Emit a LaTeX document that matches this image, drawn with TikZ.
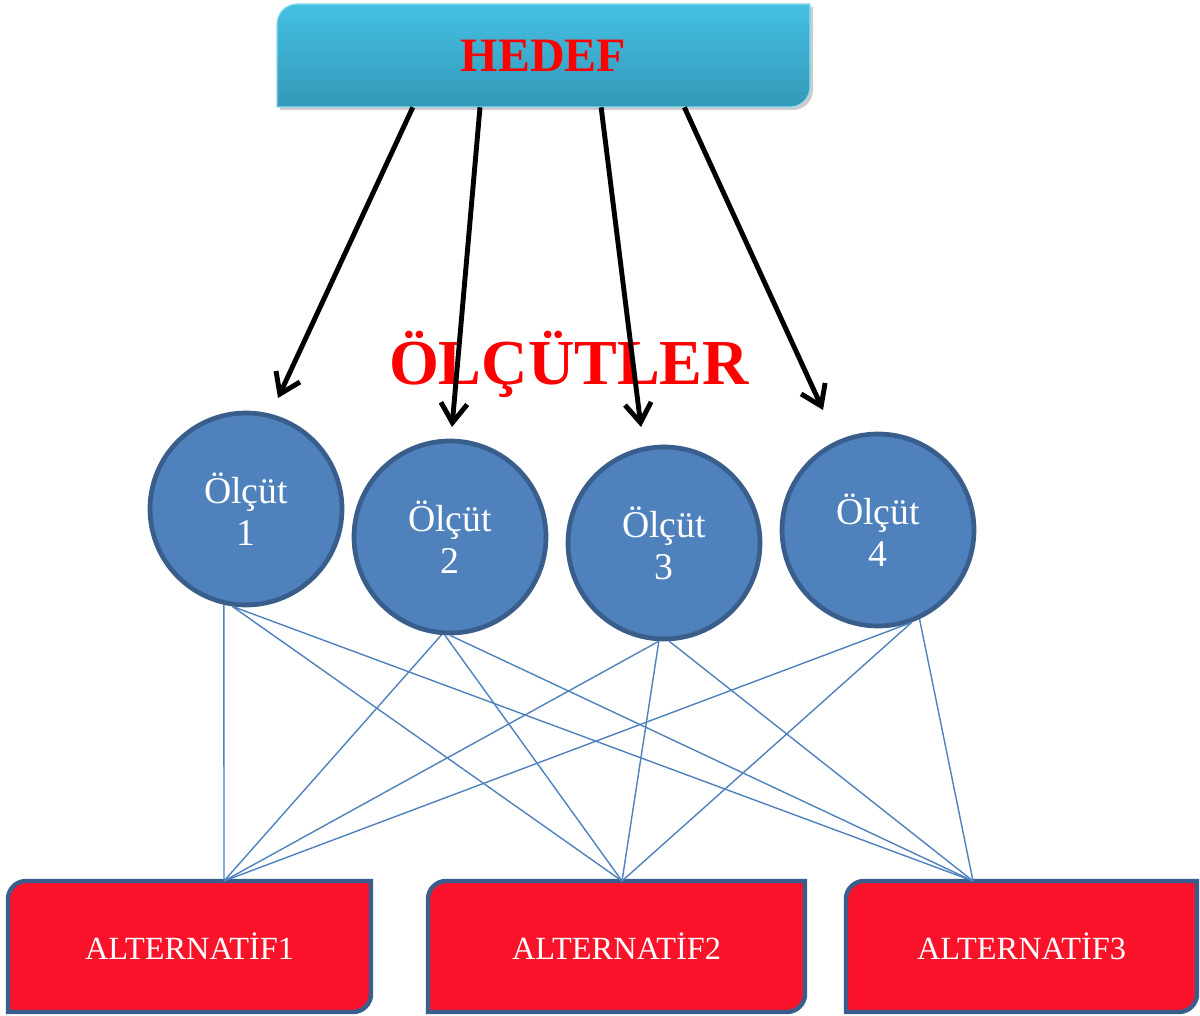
\documentclass[tikz,border=0pt]{standalone}
\usepackage{fontspec}
\setmainfont{Liberation Serif}
\usetikzlibrary{arrows.meta,calc}

\definecolor{critfill}{RGB}{79,129,189}
\definecolor{critedge}{RGB}{58,94,140}
\definecolor{altred}{RGB}{249,18,41}
\definecolor{goaltop}{RGB}{68,192,226}
\definecolor{goalbot}{RGB}{52,152,184}
\definecolor{titlered}{RGB}{255,0,0}

% box with round top-left and bottom-right corners
\newcommand{\cornerbox}[6]{%
  \path[#6] (#1,#2+#5) .. controls (#1,#2+0.45*#5) and (#1+0.45*#5,#2) .. (#1+#5,#2)
    -- (#3,#2) -- (#3,#4-#5) .. controls (#3,#4-0.45*#5) and (#3-0.45*#5,#4) .. (#3-#5,#4)
    -- (#1,#4) -- cycle;}

\begin{document}
\begin{tikzpicture}
  [x=0.02cm,y=-0.02cm,
   crit/.style={circle,fill=critfill,draw=critedge,line width=2.7pt,minimum size=3.84cm,
     inner sep=0pt,text=white,align=center,font=\fontsize{21.5}{24}\selectfont},
   altlabel/.style={text=white,minimum width=7.2cm,minimum height=2.6cm,
     font=\fontsize{18.4}{21}\selectfont},
   altshape/.style={fill=altred,draw=critedge,line width=2.5pt},
   goalshape/.style={top color=goaltop,bottom color=goalbot,draw=goaltop!60!white,line width=0.6pt},
   goallabel/.style={text=titlered,minimum width=10.66cm,minimum height=2.06cm,
     font=\fontsize{27.3}{30}\selectfont\bfseries},
   link/.style={draw=critfill,line width=0.8pt},
   pointer/.style={draw=black,line width=2.8pt,-{Straight Barb[length=11pt,width=15pt]}}]
\useasboundingbox (0,0) rectangle (1200,1016);

% Hedef kutusu
  \cornerbox{280}{7}{813}{110}{20}{fill=black!20}
  \cornerbox{277}{4}{810}{107}{20}{goalshape}
  \node[goallabel] (hedef) at (543.5,55.5) {HEDEF};

  \node[text=titlered,anchor=base,font=\fontsize{36.5}{40}\selectfont\bfseries]
    (olcutler) at (569,385) {ÖLÇÜTLER};

% Uç noktalar
  \coordinate (e1) at (278,398);
  \coordinate (e2) at (452,427);
  \coordinate (e3) at (641,427);
  \coordinate (e4) at (823,410);

  \foreach \f/\e in {0.255/e1, 0.381/e2, 0.608/e3, 0.764/e4}
    \draw[pointer] ($(hedef.south west)!\f!(hedef.south east)$) -- (\e);

% Alternatifler
  \cornerbox{8}{881}{371}{1012}{18}{altshape}
  \cornerbox{428}{881}{805}{1012}{18}{altshape}
  \cornerbox{846}{881}{1197}{1012}{18}{altshape}
  \node[altlabel] (alt1) at (189.5,946.5) {ALTERNATİF1};
  \node[altlabel] (alt2) at (616.5,946.5) {ALTERNATİF2};
  \node[altlabel] (alt3) at (1021.5,946.5) {ALTERNATİF3};

  \coordinate (p1) at (224,881);
  \coordinate (p2) at (622,881);
  \coordinate (p3) at (973,881);

% Ölçütler
  \node[crit] (c1) at (246,509) {Ölçüt\\1};
  \node[crit] (c2) at (450,537) {Ölçüt\\2};
  \node[crit] (c3) at (664,543) {Ölçüt\\3};
  \node[crit] (c4) at (878,530) {Ölçüt\\4};

  \foreach \c/\a/\p in {c1/257/p1, c1/262/p2, c1/262/p3,
                        c2/265/p1, c2/267/p2, c2/270/p3,
                        c3/267/p1, c3/267/p2, c3/273/p3,
                        c4/290/p1, c4/290/p2, c4/295/p3}
    \draw[link] (\c.\a) -- (\p);
\end{tikzpicture}
\end{document}
